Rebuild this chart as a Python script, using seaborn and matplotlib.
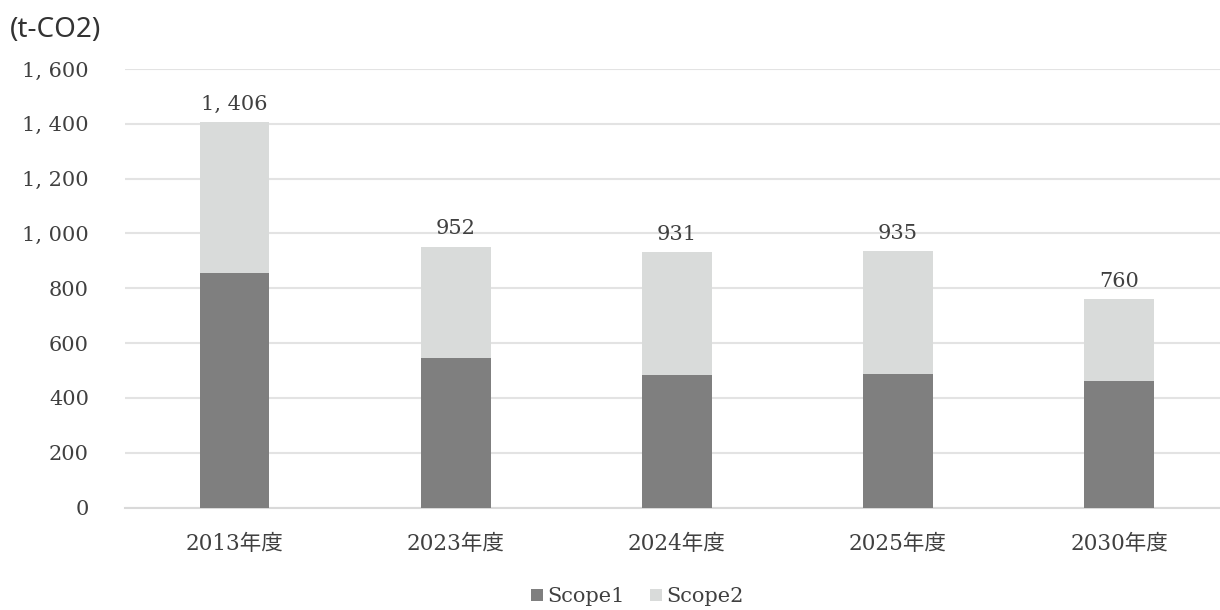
import matplotlib
matplotlib.use("Agg")
import matplotlib.pyplot as plt
import seaborn as sns
import pandas as pd
from matplotlib.lines import Line2D

categories = ["2013年度", "2023年度", "2024年度", "2025年度", "2030年度"]
scope1 = [857, 545, 483, 486, 461]
totals = [1406, 952, 931, 935, 760]
scope2 = [t - s for t, s in zip(totals, scope1)]
yticks = [0, 200, 400, 600, 800, 1000, 1200, 1400, 1600]

sns.set_theme(style="white")
serif = ["DejaVu Serif", "Noto Sans CJK JP"]
plt.rcParams["font.family"] = serif

df = pd.DataFrame({"cat": categories, "Scope1": scope1, "Scope2": scope2, "total": totals})

fig = plt.figure(figsize=(12.2, 6.1), dpi=100)
ax = fig.add_axes([125 / 1220, 1 - 507.5 / 610, 1 - 125 / 1220, (507.5 - 69) / 610])

c1 = "#7f7f7f"
c2 = "#d9dbda"
txt = "#404040"

sns.barplot(data=df, x="cat", y="total", color=c2, width=0.316, ax=ax,
            saturation=1, linewidth=0, zorder=3)
sns.barplot(data=df, x="cat", y="Scope1", color=c1, width=0.316, ax=ax,
            saturation=1, linewidth=0, zorder=4)

ax.set_ylim(0, 1600)
ax.set_xlim(-0.495, 4.457)
ax.set_yticks(yticks)
ax.set_yticklabels([f"{v:,}".replace(",", ", ") for v in yticks])
ax.yaxis.grid(True, color="#e3e3e3", linewidth=1.5, zorder=0)
ax.set_axisbelow(True)
for s in ["top", "right", "left"]:
    ax.spines[s].set_visible(False)
ax.spines["bottom"].set_color("#d9d9d9")
ax.spines["bottom"].set_linewidth(1.5)
ax.tick_params(axis="y", length=0, pad=26, labelsize=15, labelcolor=txt)
ax.tick_params(axis="x", length=0, pad=18, labelsize=15.5, labelcolor=txt)
for lab in ax.get_xticklabels():
    lab.set_family(serif)
ax.set_xlabel("")
ax.set_ylabel("")

for i, t in enumerate(totals):
    ax.text(i, t + 30, f"{t:,}".replace(",", ", "), ha="center", va="bottom",
            fontsize=15, color=txt, family=serif)

fig.text(10 / 1220, 1 - 30 / 610, "(t-CO2)", ha="left", va="center",
         fontsize=20, color="#333333", family=["Noto Sans", "DejaVu Sans"])

handles = [Line2D([], [], marker="s", linestyle="none", markersize=9,
                  markerfacecolor=c1, markeredgewidth=0, label="Scope1"),
           Line2D([], [], marker="s", linestyle="none", markersize=9,
                  markerfacecolor=c2, markeredgewidth=0, label="Scope2")]
fig.legend(handles=handles, loc="center", bbox_to_anchor=(635 / 1220, 1 - 597 / 610),
           ncol=2, frameon=False, fontsize=15, handletextpad=0.0, columnspacing=1.0,
           handlelength=1.0, labelcolor=txt)

fig.savefig("out.png", dpi=100)
